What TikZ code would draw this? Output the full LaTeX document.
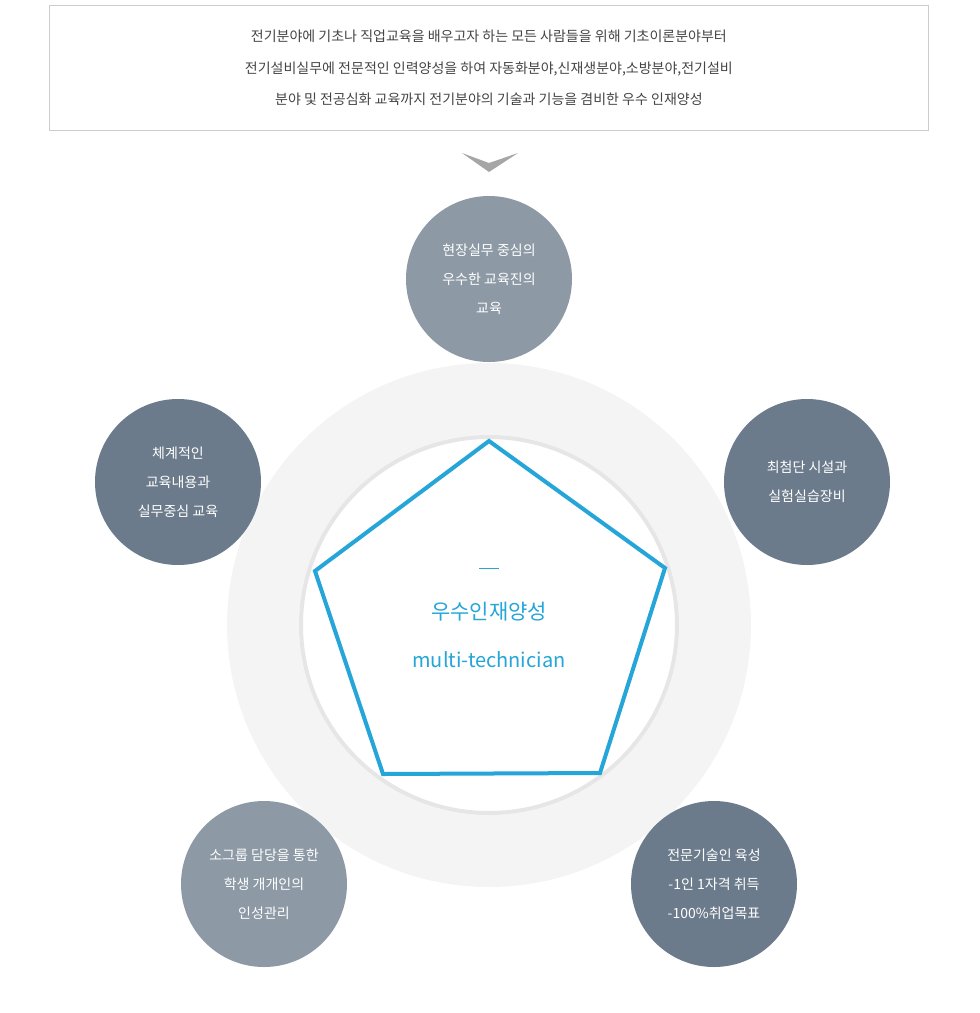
\documentclass[tikz,border=0pt]{standalone}
\usepackage{fontspec}
\setmainfont{Noto Sans CJK KR}
\definecolor{boxline}{HTML}{CCCCCC}
\definecolor{txt}{HTML}{444444}
\definecolor{ringc}{HTML}{F4F4F4}
\definecolor{ringb}{HTML}{E6E6E6}
\definecolor{lightc}{HTML}{8D9AA6}
\definecolor{darkc}{HTML}{6C7B8B}
\definecolor{bluec}{HTML}{25A5D8}
\begin{document}
\begin{tikzpicture}[x=1pt,y=-1pt,
  circ/.style={circle,minimum size=166pt,inner sep=0pt,text=white,align=center,font=\fontsize{14}{29}\selectfont}]
\useasboundingbox (0,0) rectangle (980,1013);
\node[draw=boxline,line width=0.8pt,minimum width=879pt,minimum height=125pt,inner sep=0pt,anchor=north west,text=txt,align=center,font=\fontsize{14}{31.5}\selectfont] (box) at (49,5) {전기분야에 기초나 직업교육을 배우고자 하는 모든 사람들을 위해 기초이론분야부터\\전기설비실무에 전문적인 인력양성을 하여 자동화분야,신재생분야,소방분야,전기설비\\분야 및 전공심화 교육까지 전기분야의 기술과 기능을 겸비한 우수 인재양성};
\fill[gray!70] (462,153) -- (489,163) -- (518,153) -- (489,172) -- cycle;
\fill[ringc] (489,625) circle (262);
\fill[white] (489,625) circle (190);
\draw[ringb,line width=4pt] (489,625) circle (188);
\coordinate (p1) at (489,441);
\coordinate (p2) at (665,568);
\coordinate (p3) at (600,773);
\coordinate (p4) at (383,774);
\coordinate (p5) at (315,571);
\draw[bluec,line width=4pt,line join=miter] (p1)--(p2)--(p3)--(p4)--(p5)--cycle;
\draw[bluec,line width=1pt] (479,568) -- (499,568);
\node[text=bluec,font=\fontsize{21}{24}\selectfont] (t1) at (489,612) {우수인재양성};
\node[text=bluec,font=\fontsize{20}{24}\selectfont] (t2) at (489,660) {multi-technician};
\node[circ,fill=lightc] (c1) at (489,279) {현장실무 중심의\\우수한 교육진의\\교육};
\node[circ,fill=darkc] (c2) at (807,482) {최첨단 시설과\\실험실습장비};
\node[circ,fill=darkc] (c3) at (178,482) {체계적인\\교육내용과\\실무중심 교육};
\node[circ,fill=lightc] (c4) at (264,884) {소그룹 담당을 통한\\학생 개개인의\\인성관리};
\node[circ,fill=darkc] (c5) at (714,884) {전문기술인 육성\\-1인 1자격 취득\\-100\%취업목표};
\end{tikzpicture}
\end{document}
